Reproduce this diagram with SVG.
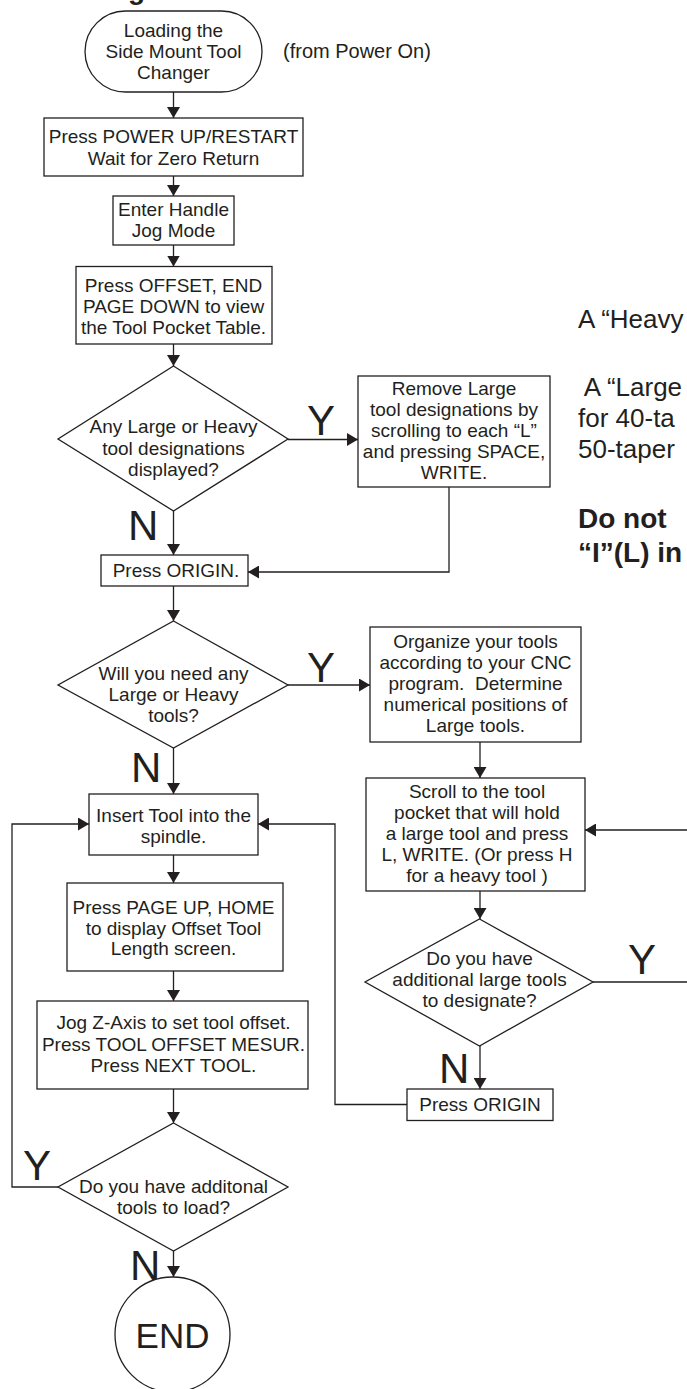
<svg xmlns="http://www.w3.org/2000/svg" width="687" height="1389" viewBox="0 0 687 1389">
<style>
  .shape{fill:#ffffff;stroke:#231f20;stroke-width:1.3}
  .line{fill:none;stroke:#231f20;stroke-width:1.3}
  text{font-family:"Liberation Sans",Arial,sans-serif;fill:#231f20}
  .t{font-size:19px;text-anchor:middle}
  .yn{font-size:42px}
  .note{font-size:26px}
  .bold{font-size:28px;font-weight:bold}
</style>
<defs>
  <marker id="arr" markerUnits="userSpaceOnUse" markerWidth="12" markerHeight="13" refX="11" refY="6.5" orient="auto">
    <path d="M0,0 L11,6.5 L0,13 z" fill="#231f20"/>
  </marker>
</defs>
<rect width="687" height="1389" fill="#ffffff"/>

<text class="bold" x="128" y="-1.5">g</text>

<g id="connectors">
  <line class="line" x1="173.5" y1="92" x2="173.5" y2="118" marker-end="url(#arr)"/>
  <line class="line" x1="173.5" y1="176" x2="173.5" y2="196" marker-end="url(#arr)"/>
  <line class="line" x1="173.5" y1="245" x2="173.5" y2="266.5" marker-end="url(#arr)"/>
  <line class="line" x1="173.5" y1="344" x2="173.5" y2="366" marker-end="url(#arr)"/>
  <line class="line" x1="288" y1="439.5" x2="358" y2="439.5" marker-end="url(#arr)"/>
  <line class="line" x1="173.5" y1="511" x2="173.5" y2="555" marker-end="url(#arr)"/>
  <polyline class="line" points="449,487 449,572 248,572" marker-end="url(#arr)"/>
  <line class="line" x1="173.5" y1="586" x2="173.5" y2="621" marker-end="url(#arr)"/>
  <line class="line" x1="288" y1="685" x2="370" y2="685" marker-end="url(#arr)"/>
  <line class="line" x1="173.5" y1="748" x2="173.5" y2="794" marker-end="url(#arr)"/>
  <line class="line" x1="480" y1="742" x2="480" y2="778" marker-end="url(#arr)"/>
  <line class="line" x1="480" y1="891" x2="480" y2="919" marker-end="url(#arr)"/>
  <polyline class="line" points="593,982 692,982 692,830 585,830" marker-end="url(#arr)"/>
  <line class="line" x1="480" y1="1046" x2="480" y2="1089" marker-end="url(#arr)"/>
  <polyline class="line" points="407,1104.5 335,1104.5 335,824 258,824" marker-end="url(#arr)"/>
  <line class="line" x1="173.5" y1="855" x2="173.5" y2="883" marker-end="url(#arr)"/>
  <line class="line" x1="173.5" y1="971" x2="173.5" y2="1001" marker-end="url(#arr)"/>
  <line class="line" x1="173.5" y1="1089" x2="173.5" y2="1123" marker-end="url(#arr)"/>
  <polyline class="line" points="58,1187 12,1187 12,824 89,824" marker-end="url(#arr)"/>
  <line class="line" x1="173.5" y1="1251" x2="173.5" y2="1277" marker-end="url(#arr)"/>
</g>

<g id="start">
  <rect class="shape" x="85" y="11" width="177" height="81" rx="40.5" ry="40.5"/>
  <text class="t" x="173.5" y="37">Loading the</text>
  <text class="t" x="173.5" y="58">Side Mount Tool</text>
  <text class="t" x="173.5" y="79">Changer</text>
</g>
<text id="from-note" x="283" y="58" style="font-size:20px">(from Power On)</text>

<g id="power-up">
  <rect class="shape" x="44" y="118" width="259" height="58"/>
  <text class="t" x="173.5" y="143">Press POWER UP/RESTART</text>
  <text class="t" x="173.5" y="165">Wait for Zero Return</text>
</g>

<g id="handle-jog">
  <rect class="shape" x="113" y="196" width="121" height="49"/>
  <text class="t" x="173.5" y="216">Enter Handle</text>
  <text class="t" x="173.5" y="237">Jog Mode</text>
</g>

<g id="offset-end">
  <rect class="shape" x="76" y="266.5" width="196" height="77.5"/>
  <text class="t" x="173.5" y="291.5">Press OFFSET, END</text>
  <text class="t" x="173.5" y="312.5">PAGE DOWN to view</text>
  <text class="t" x="173.5" y="333.5">the Tool Pocket Table.</text>
</g>

<g id="decision-any">
  <polygon class="shape" points="173.5,366 288,439 173.5,511 58,439"/>
  <text class="t" x="173.5" y="433">Any Large or Heavy</text>
  <text class="t" x="173.5" y="455">tool designations</text>
  <text class="t" x="173.5" y="476">displayed?</text>
</g>
<text id="y1" class="yn" x="307" y="435">Y</text>
<text id="n1" class="yn" x="128" y="540">N</text>

<g id="remove-large">
  <rect class="shape" x="358" y="376" width="192" height="111"/>
  <text class="t" x="454" y="395">Remove Large</text>
  <text class="t" x="454" y="416">tool designations by</text>
  <text class="t" x="454" y="437">scrolling to each “L”</text>
  <text class="t" x="454" y="458">and pressing SPACE,</text>
  <text class="t" x="454" y="479">WRITE.</text>
</g>

<g id="press-origin-1">
  <rect class="shape" x="101" y="555" width="147" height="31"/>
  <text class="t" x="176" y="577">Press ORIGIN.</text>
</g>

<g id="decision-need">
  <polygon class="shape" points="173.5,621 288,685 173.5,748 58,685"/>
  <text class="t" x="173.5" y="680">Will you need any</text>
  <text class="t" x="173.5" y="701">Large or Heavy</text>
  <text class="t" x="173.5" y="722">tools?</text>
</g>
<text id="y2" class="yn" x="307" y="682">Y</text>
<text id="n2" class="yn" x="131" y="782">N</text>

<g id="organize">
  <rect class="shape" x="370" y="627" width="211" height="115"/>
  <text class="t" x="475.5" y="648">Organize your tools</text>
  <text class="t" x="475.5" y="669">according to your CNC</text>
  <text class="t" x="475.5" y="690" xml:space="preserve">program.  Determine</text>
  <text class="t" x="475.5" y="711">numerical positions of</text>
  <text class="t" x="475.5" y="732">Large tools.</text>
</g>

<g id="scroll-pocket">
  <rect class="shape" x="366" y="778" width="219" height="113"/>
  <text class="t" x="477" y="798">Scroll to the tool</text>
  <text class="t" x="477" y="819">pocket that will hold</text>
  <text class="t" x="477" y="840">a large tool and press</text>
  <text class="t" x="477" y="861">L, WRITE. (Or press H</text>
  <text class="t" x="477" y="882">for a heavy tool )</text>
</g>

<g id="decision-additional-large">
  <polygon class="shape" points="479.5,919 593,982 479.5,1046 365,982"/>
  <text class="t" x="479.5" y="965">Do you have</text>
  <text class="t" x="479.5" y="986">additional large tools</text>
  <text class="t" x="479.5" y="1007">to designate?</text>
</g>
<text id="y3" class="yn" x="628" y="974">Y</text>
<text id="n3" class="yn" x="439" y="1083">N</text>

<g id="press-origin-2">
  <rect class="shape" x="407" y="1089" width="146" height="31.5"/>
  <text class="t" x="480" y="1111">Press ORIGIN</text>
</g>

<g id="insert-tool">
  <rect class="shape" x="89" y="794" width="169" height="61"/>
  <text class="t" x="173.5" y="822">Insert Tool into the</text>
  <text class="t" x="173.5" y="843">spindle.</text>
</g>

<g id="page-up">
  <rect class="shape" x="67" y="883" width="216" height="88"/>
  <text class="t" x="173.5" y="914">Press PAGE UP, HOME</text>
  <text class="t" x="173.5" y="934.5">to display Offset Tool</text>
  <text class="t" x="173.5" y="955">Length screen.</text>
</g>

<g id="jog-z">
  <rect class="shape" x="37" y="1001" width="271" height="88"/>
  <text class="t" x="173.5" y="1029">Jog Z-Axis to set tool offset.</text>
  <text class="t" x="173.5" y="1050.5">Press TOOL OFFSET MESUR.</text>
  <text class="t" x="173.5" y="1072">Press NEXT TOOL.</text>
</g>

<g id="decision-more-tools">
  <polygon class="shape" points="173.5,1123 288,1187 173.5,1251 58,1187"/>
  <text class="t" x="173.5" y="1193">Do you have additonal</text>
  <text class="t" x="173.5" y="1214">tools to load?</text>
</g>
<text id="y4" class="yn" x="23" y="1180">Y</text>
<text id="n4" class="yn" x="130" y="1280">N</text>

<g id="end">
  <circle class="shape" cx="172.5" cy="1334.5" r="57.5"/>
  <text x="172.5" y="1348" style="font-size:35px;text-anchor:middle">END</text>
</g>

<g id="notes">
  <text class="note" x="578" y="328">A “Heavy</text>
  <text class="note" x="578" y="396" xml:space="preserve"> A “Large</text>
  <text class="note" x="578" y="427">for 40-ta</text>
  <text class="note" x="578" y="458">50-taper</text>
  <text class="bold" x="578" y="528">Do not</text>
  <text class="bold" x="578" y="562">“I”(L) in</text>
</g>
</svg>
